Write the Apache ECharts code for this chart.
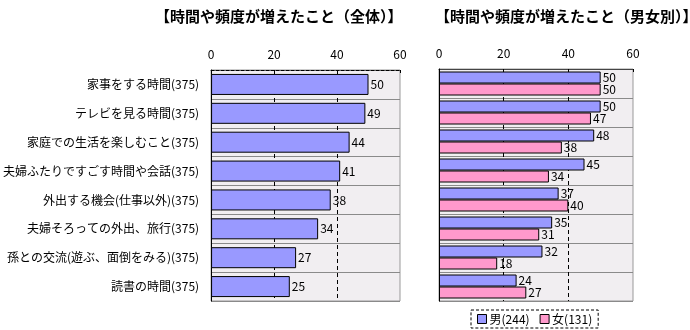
<!DOCTYPE html>
<html>
<head>
<meta charset="utf-8">
<script src="https://cdn.jsdelivr.net/npm/echarts@6/dist/echarts.min.js"></script>
<style>
html,body{margin:0;padding:0;background:#fff;}
#c{width:690px;height:330px;}
</style>
</head>
<body>
<div id="c"></div>
<script>
var categories = ['家事をする時間(375)','テレビを見る時間(375)','家庭での生活を楽しむこと(375)','夫婦ふたりですごす時間や会話(375)','外出する機会(仕事以外)(375)','夫婦そろっての外出、旅行(375)','孫との交流(遊ぶ、面倒をみる)(375)','読書の時間(375)'];
var totalValues = [50,49,44,41,38,34,27,25];
var maleValues = [50,50,48,45,37,35,32,24];
var femaleValues = [50,47,38,34,40,31,18,27];
var leftTitle = '【時間や頻度が増えたこと（全体）】';
var rightTitle = '【時間や頻度が増えたこと（男女別）】';
var maleName = '男(244)';
var femaleName = '女(131)';

var FONT = '"Noto Sans CJK JP", sans-serif';
var chart = echarts.init(document.getElementById('c'), null, {renderer:'canvas'});

function xAxisCfg(gi, dashedTop){
  return {
    type:'value', gridIndex:gi, position:'top', min:0, max:60, interval:20,
    axisLine:{show:true, lineStyle:{color: dashedTop ? '#000' : '#444', type: dashedTop ? [3,2] : 'solid', width:1}},
    axisTick:{show:true, inside:true, length:3, lineStyle:{color:'#000'}},
    axisLabel:{color:'#000', fontSize:12, fontFamily:FONT, margin:10},
    splitLine:{show:true, showMinLine:false, showMaxLine:false, lineStyle:{color:'#000', type:[4,3], width:1}}
  };
}
function yAxisCfg(gi, showLabels){
  return {
    type:'category', gridIndex:gi, data:categories, inverse:true,
    axisLine:{show:true, lineStyle:{color:'#000'}},
    axisTick:{show:false},
    axisLabel:{show:showLabels, color:'#000', fontSize:12, fontFamily:FONT, margin:12},
    splitLine:{show:true, lineStyle:{color:'#8a8a8a', width:1}}
  };
}
var lbl = {show:true, position:'right', distance:2, color:'#000', fontSize:12, fontFamily:FONT};

chart.setOption({
  animation:false,
  title:[
    {text:leftTitle, left:150, top:4, textStyle:{fontSize:15, fontWeight:'bold', color:'#000', fontFamily:FONT}},
    {text:rightTitle, left:430, top:4, textStyle:{fontSize:15, fontWeight:'bold', color:'#000', fontFamily:FONT}}
  ],
  legend:{
    data:[maleName, femaleName], left:471, top:310, width:117, height:18,
    padding:[3,6,3,6], itemGap:10, itemWidth:9, itemHeight:9, icon:'rect',
    borderColor:'#000', borderWidth:1, borderType:[3,2],
    textStyle:{color:'#000', fontSize:12, fontFamily:FONT, padding:[0,0,0,-2]},
    itemStyle:{borderColor:'#000', borderWidth:1}
  },
  grid:[
    {left:205, top:70, width:195, height:231, show:true, backgroundColor:'#f1eef1', borderColor:'#999', borderWidth:1},
    {left:439, top:69, width:194, height:232, show:true, backgroundColor:'#f1eef1', borderColor:'#999', borderWidth:1}
  ],
  xAxis:[xAxisCfg(0,true), xAxisCfg(1,false)],
  yAxis:[yAxisCfg(0,true), yAxisCfg(1,false)],
  series:[
    {type:'bar', name:'全体', xAxisIndex:0, yAxisIndex:0, data:totalValues, barWidth:21,
     itemStyle:{color:'#9999ff', borderColor:'#000', borderWidth:1}, label:lbl, z:3},
    {type:'bar', name:maleName, xAxisIndex:1, yAxisIndex:1, data:maleValues, barWidth:12, barGap:'0%',
     itemStyle:{color:'#9999ff', borderColor:'#000', borderWidth:1}, label:lbl, z:3},
    {type:'bar', name:femaleName, xAxisIndex:1, yAxisIndex:1, data:femaleValues, barWidth:12, barGap:'0%',
     itemStyle:{color:'#ff99cc', borderColor:'#000', borderWidth:1}, label:lbl, z:3}
  ]
});
</script>
</body>
</html>
